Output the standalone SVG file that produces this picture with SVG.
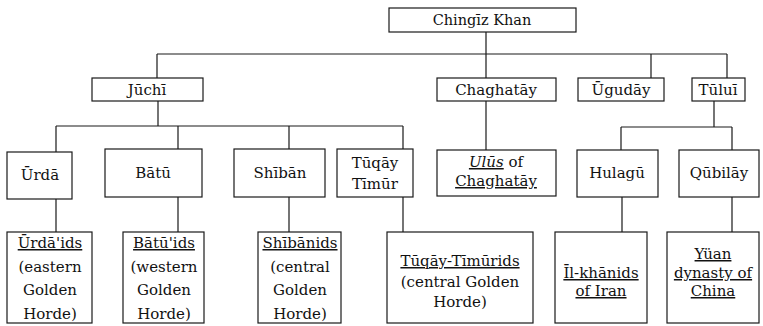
<svg xmlns="http://www.w3.org/2000/svg" width="763" height="326" viewBox="0 0 763 326">
  <style>
    rect { fill: #fff; stroke: #1a1a1a; stroke-width: 1.2; }
    .links path { fill: none; stroke: #1a1a1a; stroke-width: 1.2; }
    text { font-family: "DejaVu Serif", "Liberation Serif", serif; font-size: 15px; fill: #111; text-anchor: middle; }
    .u { text-decoration: underline; }
    .i { font-style: italic; }
  </style>
  <rect x="0" y="0" width="763" height="326" style="fill:#fff;stroke:none"/>

  <!-- connectors -->
  <g class="links">
    <path d="M486 32 V54 M157 54 H727 M157 54 V78 M486 54 V78 M651 54 V78 M727 54 V78"/>
    <path d="M158 101 V126 M56 126 H403 M56 126 V152 M178 126 V149 M289 126 V149 M403 126 V149"/>
    <path d="M486 101 V150"/>
    <path d="M714 101 V127 M621 127 H732 M621 127 V150 M732 127 V150"/>
    <path d="M56 199 V232 M178 197 V232 M289 197 V232 M403 197 V232 M622 197 V232 M732 197 V232"/>
  </g>

  <g id="chingiz"><rect x="389" y="8" width="187" height="24"/><text x="482" y="25" style="font-size:14.5px">Chingīz Khan</text></g>

  <g id="juchi"><rect x="92" y="78" width="111" height="23"/><text x="147" y="95">Jūchī</text></g>
  <g id="chaghatay"><rect x="437" y="78" width="119" height="23"/><text x="496" y="95">Chaghatāy</text></g>
  <g id="ugudai"><rect x="578" y="78" width="86" height="23"/><text x="621" y="95">Ūgudāy</text></g>
  <g id="tului"><rect x="692" y="78" width="53" height="23"/><text x="718" y="95">Tūluī</text></g>

  <g id="urda"><rect x="7" y="152" width="65" height="47"/><text x="40" y="180">Ūrdā</text></g>
  <g id="batu"><rect x="105" y="149" width="97" height="48"/><text x="153" y="178">Bātū</text></g>
  <g id="shiban"><rect x="234" y="149" width="91" height="48"/><text x="280" y="178">Shībān</text></g>
  <g id="tuqay"><rect x="337" y="149" width="76" height="48"/><text x="375" y="168">Tūqāy</text><text x="375" y="189">Tīmūr</text></g>
  <g id="ulus"><rect x="437" y="150" width="119" height="46"/><text x="496" y="167"><tspan class="u i">Ulūs</tspan> of</text><text x="496" y="186" class="u">Chaghatāy</text></g>
  <g id="hulagu"><rect x="577" y="150" width="81" height="47"/><text x="617" y="178">Hulagū</text></g>
  <g id="qubilay"><rect x="679" y="150" width="80" height="47"/><text x="719" y="178">Qūbilāy</text></g>

  <g id="urdaids"><rect x="7" y="232" width="85" height="91"/><text x="50" y="248" class="u">Ūrdā'ids</text><text x="50" y="272">(eastern</text><text x="50" y="295">Golden</text><text x="50" y="319">Horde)</text></g>
  <g id="batuids"><rect x="123" y="232" width="81" height="91"/><text x="164" y="248" class="u">Bātū'ids</text><text x="164" y="272">(western</text><text x="164" y="295">Golden</text><text x="164" y="319">Horde)</text></g>
  <g id="shibanids"><rect x="258" y="232" width="83" height="91"/><text x="300" y="248" class="u">Shībānids</text><text x="300" y="272">(central</text><text x="300" y="295">Golden</text><text x="300" y="319">Horde)</text></g>
  <g id="tuqaytimurids"><rect x="387" y="232" width="146" height="91"/><text x="460" y="266" class="u">Tūqāy-Tīmūrids</text><text x="460" y="287">(central Golden</text><text x="460" y="307">Horde)</text></g>
  <g id="ilkhanids"><rect x="555" y="232" width="92" height="91"/><text x="601" y="278" class="u">Īl-khānids</text><text x="601" y="296" class="u">of Iran</text></g>
  <g id="yuan"><rect x="667" y="232" width="92" height="91"/><text x="713" y="259" class="u">Yüan</text><text x="713" y="278" class="u">dynasty of</text><text x="713" y="296" class="u">China</text></g>
</svg>
